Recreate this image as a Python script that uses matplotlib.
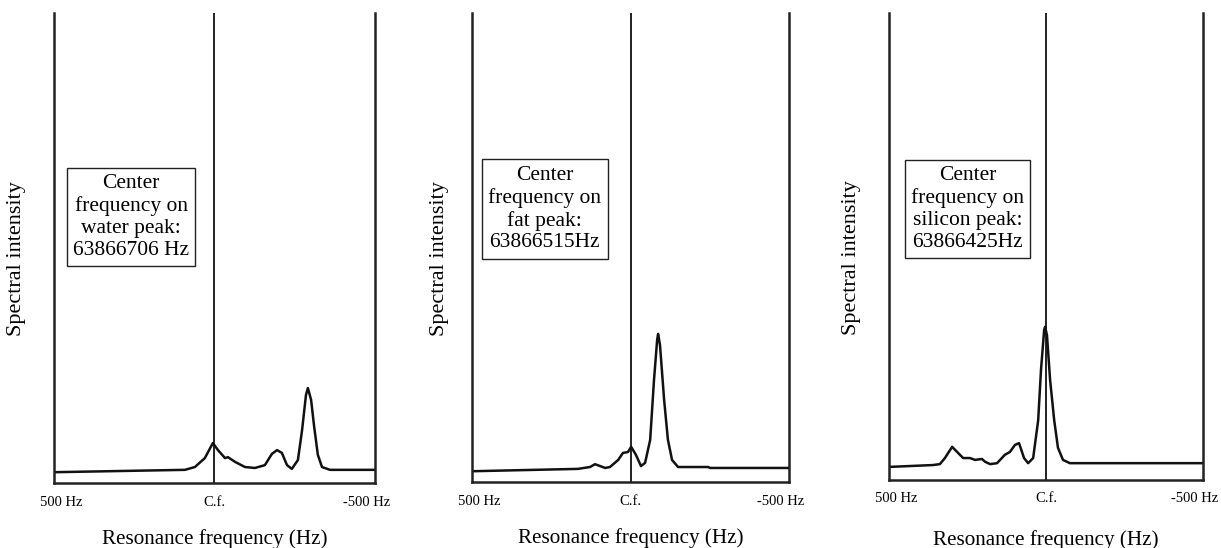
import numpy as np
import matplotlib.pyplot as plt
from matplotlib.transforms import ScaledTranslation

# Spectra (frequency in Hz, intensity in % of axis height)
freq_water = [500, 92, 61, 30, 5, -11, -33, -42, -64, -95, -126, -157, -179, -195,
              -210, -226, -241, -260, -273, -285, -291, -301, -310, -322, -335, -360, -500]
int_water = [2.3, 2.8, 3.4, 5.3, 8.5, 7.0, 5.3, 5.5, 4.5, 3.4, 3.2, 3.8, 6.2, 7.0,
             6.4, 3.8, 3.0, 4.9, 11.3, 18.7, 20.2, 17.7, 12.3, 6.0, 3.4, 2.8, 2.8]

freq_fat = [500, 166, 128, 112, 80, 65, 39, 24, 8, -2, -17, -33, -46, -62, -74, -84,
            -87, -93, -106, -118, -131, -150, -245, -251, -500]
int_fat = [2.3, 2.8, 3.2, 3.8, 3.0, 3.2, 4.7, 6.2, 6.4, 7.5, 5.8, 3.4, 4.1, 9.0, 21.7,
           30.3, 31.6, 29.2, 17.5, 9.0, 4.7, 3.2, 3.2, 3.0, 3.0]

freq_silicon = [500, 360, 338, 322, 299, 283, 264, 242, 226, 204, 194, 178, 156, 131,
                115, 99, 86, 70, 57, 41, 25, 16, 6, 3, -3, -13, -26, -38, -54, -76,
                -166, -500]
int_silicon = [2.8, 3.2, 3.4, 4.7, 7.1, 6.0, 4.7, 4.7, 4.3, 4.5, 3.9, 3.4, 3.6, 5.4,
               6.0, 7.5, 7.9, 4.7, 3.6, 4.7, 12.8, 23.6, 32.1, 32.8, 31.0, 21.4, 12.8,
               6.9, 4.3, 3.6, 3.6, 3.6]

box_texts = [
    "Center\nfrequency on\nwater peak:\n63866706 Hz",
    "Center\nfrequency on\nfat peak:\n63866515Hz",
    "Center\nfrequency on\nsilicon peak:\n63866425Hz",
]
tick_pos = [500, 0, -500]
tick_labels = ["500 Hz", "C.f.", "-500 Hz"]

spectra = [(freq_water, int_water), (freq_fat, int_fat), (freq_silicon, int_silicon)]

plt.rcParams['font.family'] = ['Liberation Serif', 'DejaVu Serif']

fig = plt.figure(figsize=(12.21, 5.48), dpi=100)

# axes rectangles in figure fractions
rects = [
    [0.0442, 0.1186, 0.2629, 0.8577],
    [0.3866, 0.1204, 0.2596, 0.8558],
    [0.7281, 0.1241, 0.2572, 0.8522],
]
box_xy = [(0.24, 0.566), (0.229, 0.582), (0.25, 0.58)]
ylabel_x = [-0.087, -0.073, -0.089]
xlabel_pad = [15, 15, 18]
# end labels sit a little inside the axis edges
label_shift = [7, 0, -8]

for i, (f, s) in enumerate(spectra):
    ax = fig.add_axes(rects[i])
    ax.plot(f, s, color='#111111', lw=1.8, solid_joinstyle='round')
    ax.axvline(0, color='#111111', lw=1.3)
    ax.set_xlim(500, -500)
    ax.set_ylim(0, 100)

    ax.spines['top'].set_visible(False)
    for side in ['left', 'right', 'bottom']:
        ax.spines[side].set_linewidth(1.8)
        ax.spines[side].set_color('#222222')

    ax.set_yticks([])
    ax.set_xticks(tick_pos)
    ax.set_xticklabels(tick_labels, fontsize=10.5)
    ax.tick_params(axis='x', length=0, pad=9)
    for lab, dx in zip(ax.get_xticklabels(), label_shift):
        lab.set_transform(lab.get_transform() + ScaledTranslation(dx / 100, 0, fig.dpi_scale_trans))

    ax.set_xlabel("Resonance frequency (Hz)", fontsize=15.2, labelpad=xlabel_pad[i])
    ax.set_ylabel("Spectral intensity", fontsize=16)
    ax.yaxis.set_label_coords(ylabel_x[i], 0.477)

    ax.text(box_xy[i][0], box_xy[i][1], box_texts[i], transform=ax.transAxes,
            ha='center', va='center', multialignment='center', fontsize=15.5,
            linespacing=1.2,
            bbox=dict(boxstyle='square,pad=0.3', facecolor='white',
                      edgecolor='#222222', lw=1.0))

fig.savefig("out.png", dpi=100)
